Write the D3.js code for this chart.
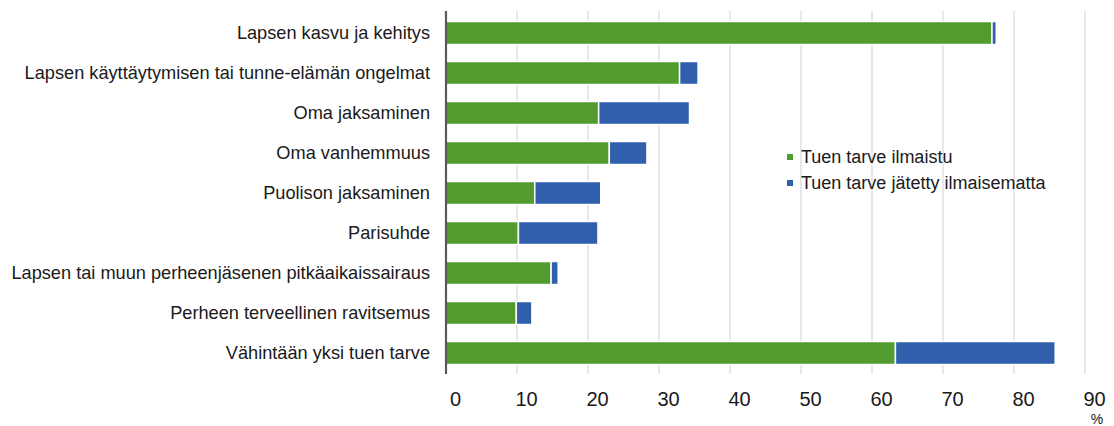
<!DOCTYPE html>
<html>
<head>
<meta charset="utf-8">
<script src="https://cdn.jsdelivr.net/npm/d3@7"></script>
<style>
  body { margin: 0; background: #fff; }
  svg { display: block; font-family: "Liberation Sans", Arial, sans-serif; }
</style>
</head>
<body>
<svg id="chart" width="1114" height="426"></svg>
<script>
const categories = [
    "Lapsen kasvu ja kehitys",
    "Lapsen käyttäytymisen tai tunne-elämän ongelmat",
    "Oma jaksaminen",
    "Oma vanhemmuus",
    "Puolison jaksaminen",
    "Parisuhde",
    "Lapsen tai muun perheenjäsenen pitkäaikaissairaus",
    "Perheen terveellinen ravitsemus",
    "Vähintään yksi tuen tarve"
];
const expressed = [76.9, 32.9, 21.5, 23.0, 12.5, 10.2, 14.8, 9.9, 63.3];
const notExpressed = [0.6, 2.6, 12.8, 5.3, 9.3, 11.2, 1.0, 2.2, 22.5];
const seriesNames = ["Tuen tarve ilmaistu", "Tuen tarve jätetty ilmaisematta"];
const xTicks = [0, 10, 20, 30, 40, 50, 60, 70, 80, 90];

const colors = ["#529b2e", "#2f5fad"];

const svg = d3.select("#chart");
const margin = {top: 13, left: 446, right: 29, bottom: 53};
const width = 1114, height = 426;

const x = d3.scaleLinear().domain([0, 90]).range([margin.left, width - margin.right]);
const y = d3.scaleBand().domain(categories).range([margin.top, height - margin.bottom])
    .paddingInner(0.425).paddingOuter(0.2125);

// gridlines
svg.append("g")
    .selectAll("line")
    .data(xTicks.slice(1))
    .join("line")
    .attr("x1", d => x(d)).attr("x2", d => x(d))
    .attr("y1", margin.top - 2).attr("y2", height - margin.bottom + 1)
    .attr("stroke", "#d9d9d9")
    .attr("stroke-width", 1.2);

const rows = categories.map((c, i) => ({cat: c, a: expressed[i], b: notExpressed[i]}));
const stacked = d3.stack().keys(["a", "b"])(rows);

svg.append("g")
    .selectAll("g")
    .data(stacked)
    .join("g")
    .attr("fill", (d, i) => colors[i])
    .selectAll("rect")
    .data(d => d)
    .join("rect")
    .attr("x", d => x(d[0]))
    .attr("y", d => y(d.data.cat))
    .attr("width", d => x(d[1]) - x(d[0]))
    .attr("height", y.bandwidth())
    .attr("stroke", "#fff")
    .attr("stroke-width", 1.5);

// left axis line
svg.append("line")
    .attr("x1", margin.left).attr("x2", margin.left)
    .attr("y1", margin.top - 2).attr("y2", height - margin.bottom + 1)
    .attr("stroke", "#595959")
    .attr("stroke-width", 2.2);

// category labels
svg.append("g")
    .selectAll("text")
    .data(categories)
    .join("text")
    .attr("x", 430)
    .attr("y", d => y(d) + y.bandwidth() / 2)
    .attr("dy", "0.35em")
    .attr("text-anchor", "end")
    .attr("font-size", "18.2px")
    .attr("fill", "#1a1a1a")
    .text(d => d);

// x tick labels
const xAxis = svg.append("g")
    .attr("transform", `translate(0, ${height - margin.bottom})`)
    .call(d3.axisBottom(x).tickValues(xTicks).tickSize(0).tickPadding(0));
xAxis.select(".domain").remove();
xAxis.selectAll("text")
    .attr("dx", 9)
    .attr("y", 33)
    .attr("dy", 0)
    .attr("font-size", "20px")
    .attr("font-family", "Liberation Sans, Arial, sans-serif")
    .attr("fill", "#1a1a1a");

svg.append("text")
    .attr("x", x(90) + 12)
    .attr("y", 424)
    .attr("text-anchor", "middle")
    .attr("font-size", "14px")
    .attr("fill", "#1a1a1a")
    .text("%");

// legend
const legend = svg.append("g")
    .selectAll("g")
    .data(seriesNames)
    .join("g")
    .attr("transform", (d, i) => `translate(787, ${157 + i * 26})`);

legend.append("rect")
    .attr("x", 0).attr("y", -3)
    .attr("width", 6).attr("height", 6)
    .attr("fill", (d, i) => colors[i]);

legend.append("text")
    .attr("x", 14)
    .attr("dy", "0.35em")
    .attr("font-size", "18px")
    .attr("fill", "#1a1a1a")
    .text(d => d);
</script>
</body>
</html>
